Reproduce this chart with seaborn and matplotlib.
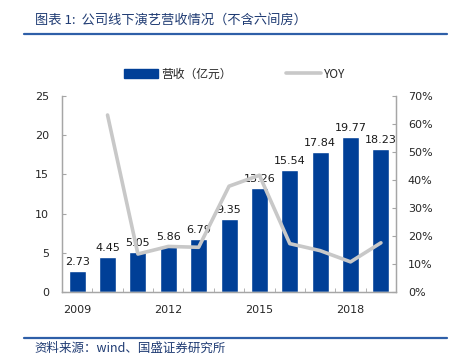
import numpy as np
import matplotlib
matplotlib.use("Agg")
import matplotlib.pyplot as plt
import seaborn as sns
from matplotlib.ticker import PercentFormatter, FixedLocator
from matplotlib.lines import Line2D
from matplotlib.patches import Patch

sns.set_style("white")
plt.rcParams['font.family'] = ['DejaVu Sans', 'Noto Sans CJK SC']

# data
years = ['2009', '2010', '2011', '2012', '2013', '2014', '2015', '2016', '2017', '2018', '2019']
revenue = [2.73, 4.45, 5.05, 5.86, 6.79, 9.35, 13.26, 15.54, 17.84, 19.77, 18.23]
yoy_years = years[1:]
yoy = [0.632, 0.136, 0.163, 0.160, 0.378, 0.417, 0.173, 0.148, 0.108, 0.176]

bar_color = '#003f97'
line_color = '#c8c8c8'
spine_color = '#a6a6a6'
cjk = ['Noto Sans CJK SC', 'DejaVu Sans']

fig = plt.figure(figsize=(4.59, 3.58), dpi=100)
ax = fig.add_axes([0.135, 0.184, 0.728, 0.548])

sns.barplot(x=years, y=revenue, color=bar_color, width=0.56, saturation=1, ax=ax)
ax.bar_label(ax.containers[0], labels=[f'{v:.2f}' for v in revenue],
             padding=3, fontsize=8, color='#1a1a1a')
ax.set_xlim(-0.5, 10.5)
ax.set_ylim(0, 25)
ax.set_yticks([0, 5, 10, 15, 20, 25])
ax.set_xticks([0, 3, 6, 9])
ax.set_xticklabels(['2009', '2012', '2015', '2018'])
ax.xaxis.set_minor_locator(FixedLocator(np.arange(-0.5, 11, 1)))
ax.tick_params(axis='x', which='major', length=0, labelsize=8, pad=9)
ax.tick_params(axis='x', which='minor', direction='in', length=3, color=spine_color, bottom=True)
ax.tick_params(axis='y', direction='in', length=3, color=spine_color, labelsize=8, pad=9.5, left=True)
ax.set_xlabel('')
ax.set_ylabel('')

ax2 = ax.twinx()
sns.lineplot(x=np.arange(1, 11), y=yoy, color=line_color, linewidth=2.6, ax=ax2)
ax2.set_ylim(0, 0.7)
ax2.set_yticks(np.arange(0, 0.71, 0.1))
ax2.yaxis.set_major_formatter(PercentFormatter(1.0, decimals=0))
ax2.tick_params(axis='y', direction='in', length=3, color=spine_color, labelsize=8, pad=8.5, right=True)
ax2.set_xlim(-0.5, 10.5)

for a in (ax, ax2):
    a.spines['top'].set_visible(False)
    for s in ('left', 'right', 'bottom'):
        a.spines[s].set_color(spine_color)
        a.spines[s].set_linewidth(0.9)

# legend
handles = [Patch(facecolor=bar_color, edgecolor=bar_color),
           Line2D([0], [0], color=line_color, linewidth=2.6)]
leg = fig.legend(handles, ['营收（亿元）', 'YOY'], loc='center', bbox_to_anchor=(0.511, 0.793),
                 ncol=2, frameon=False, handlelength=2.9, handleheight=0.8,
                 columnspacing=4.6, handletextpad=0.3, prop={'family': cjk, 'size': 8.5})

# title and source
fig.text(0.076, 0.944, '图表 1:  公司线下演艺营收情况（不含六间房）', family=cjk,
         fontsize=9.5, color='#1f3b73', style='italic', va='center')
fig.add_artist(Line2D([0.052, 0.974], [0.905, 0.905], color='#2e5fa8', linewidth=1.6))
fig.add_artist(Line2D([0.052, 0.974], [0.056, 0.056], color='#2e5fa8', linewidth=1.6))
fig.text(0.076, 0.026, '资料来源：wind、国盛证券研究所', family=cjk,
         fontsize=9, color='#1f3b73', style='italic', va='center')

fig.savefig('out.png', dpi=100)
plt.close('all')
